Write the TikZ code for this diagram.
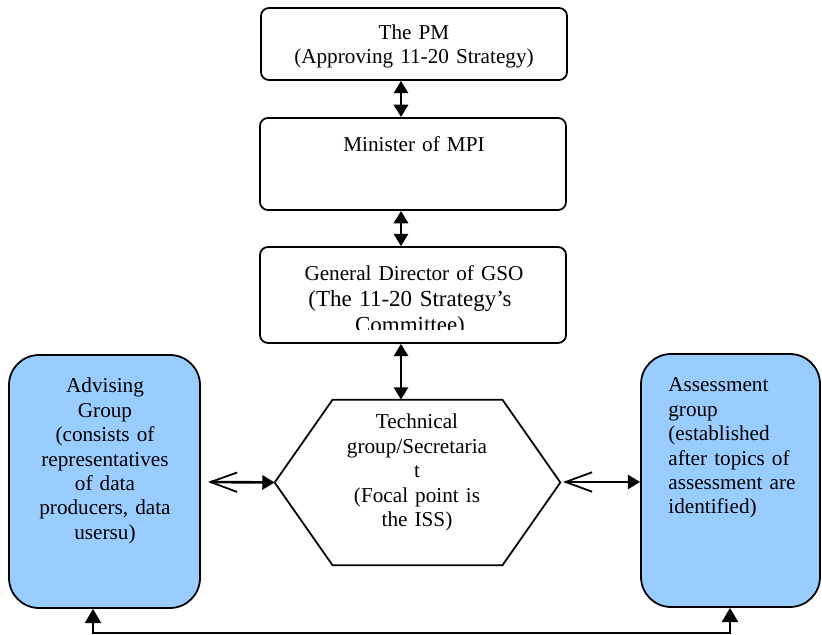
\documentclass[tikz,border=0pt]{standalone}
\usepackage{fontspec}
\setmainfont{Liberation Serif}
\usetikzlibrary{arrows.meta}
\definecolor{blueF}{HTML}{99CCFF}
\tikzset{
  box/.style={draw, line width=1pt, rounded corners=4.5pt, inner sep=0pt, minimum width=173.2pt},
  bluebox/.style={draw, line width=1pt, rounded corners=17pt, fill=blueF, inner sep=0pt},
  hexframe/.style={inner sep=0pt, minimum width=161.3pt, minimum height=93.4pt},
  hexline/.style={line width=1pt},
  lbl/.style={inner sep=0pt, anchor=base, align=center, text width=200pt, font=\fontsize{12}{13.8}\selectfont},
  lblbig/.style={inner sep=0pt, anchor=base, align=center, text width=200pt, font=\fontsize{13}{14.7}\selectfont},
  lblleft/.style={inner sep=0pt, anchor=base west, align=left, text width=90pt, font=\fontsize{12}{13.8}\selectfont},
  dbl/.style={line width=1.5pt, {Triangle[length=7pt,width=8pt]}-{Triangle[length=7pt,width=8pt]}},
  mixed/.style={line width=1.5pt, {Straight Barb[length=15pt,width=11pt,line width=1pt]}-{Triangle[length=7pt,width=8pt]}},
  upboth/.style={line width=1.5pt, {Triangle[length=8pt,width=9pt]}-{Triangle[length=8pt,width=9pt]}}
}
\begin{document}
\begin{tikzpicture}[x=0.566pt,y=-0.566pt]
\useasboundingbox (0,0) rectangle (822,635);

% boxes
\node[box, minimum height=40.75pt] (pm) at (414,44) {};
\node[box, minimum height=52.1pt] (mpi) at (413,164) {};
\node[box, minimum height=54.3pt] (gso) at (413,295) {};
\node[hexframe] (hex) at (417.5,482.5) {};
\draw[hexline] (hex.west) -- ([xshift=32.8pt]hex.north west) -- ([xshift=-32.8pt]hex.north east)
  -- (hex.east) -- ([xshift=-32.8pt]hex.south east) -- ([xshift=32.8pt]hex.south west) -- cycle;
\node[bluebox, minimum width=108.1pt, minimum height=143.2pt] (adv) at (104.5,481.5) {};
\node[bluebox, minimum width=101.3pt, minimum height=143.2pt] (asm) at (730.5,480.5) {};

% texts
\node[lbl] (pmtxt) at (414,39.5) {The PM\\(Approving 11-20 Strategy)};
\node[lbl] (mpitxt) at (414,152) {Minister of MPI};
\node[lbl] (gsotxt) at (414,281) {General Director of GSO};
\begin{scope}
  \clip (260,247) rectangle (566,329.5);
  \node[lblbig] (gsotxtb) at (410,307) {(The 11-20 Strategy's\\Committee)};
\end{scope}
\node[lbl] (hextxt) at (417,429) {Technical\\group/Secretaria\\t\\(Focal point is\\the ISS)};
\node[lbl] (advtxt) at (105,393) {Advising\\Group\\(consists of\\representatives\\of data\\producers, data\\usersu)};
\node[lblleft] (asmtxt) at (668,392) {Assessment\\group\\(established\\after topics of\\assessment are\\identified)};

% connectors
\coordinate (ax) at (401,0);
\draw[dbl] (pm.south -| ax) -- (mpi.north -| ax);
\draw[dbl] (mpi.south -| ax) -- (gso.north -| ax);
\draw[dbl] (gso.south -| ax) -- (hex.north -| ax);
\coordinate (advR) at (208,482);
\draw[mixed] (advR) -- (hex.west);
\coordinate (hexR) at (563,482);
\draw[mixed] (hexR) -- (asm.west |- hexR);
\coordinate (bl) at (93,633);
\coordinate (br) at (730,633);
\draw[upboth] (adv.south -| bl) -- (bl) -- (br) -- (asm.south -| br);
\end{tikzpicture}
\end{document}
